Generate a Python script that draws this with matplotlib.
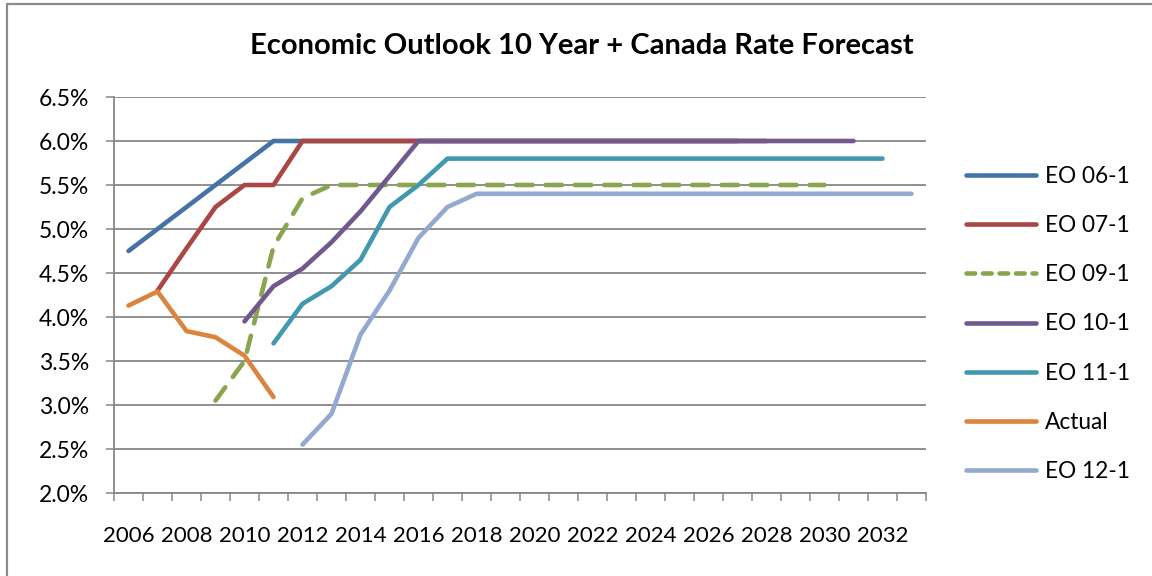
import numpy as np
import matplotlib
matplotlib.use("Agg")
import matplotlib.pyplot as plt
from matplotlib.patches import Rectangle

plt.rcParams['font.family'] = ['Lato', 'DejaVu Sans']

years = list(range(2006, 2034))

# forecast series: first year + yearly rate (%)
eo06_start = 2006
eo06 = [4.75, 5.00, 5.25, 5.50, 5.75, 6.00, 6.00, 6.00, 6.00, 6.00, 6.00,
        6.00, 6.00, 6.00, 6.00, 6.00, 6.00, 6.00, 6.00, 6.00, 6.00, 6.00]
eo07_start = 2007
eo07 = [4.30, 4.78, 5.25, 5.50, 5.50, 6.00, 6.00, 6.00, 6.00, 6.00, 6.00,
        6.00, 6.00, 6.00, 6.00, 6.00, 6.00, 6.00, 6.00, 6.00, 6.00, 6.00]
eo09_start = 2009
eo09 = [3.05, 3.50, 4.80, 5.35, 5.50, 5.50, 5.50, 5.50, 5.50, 5.50, 5.50,
        5.50, 5.50, 5.50, 5.50, 5.50, 5.50, 5.50, 5.50, 5.50, 5.50, 5.50]
eo10_start = 2010
eo10 = [3.95, 4.35, 4.55, 4.85, 5.20, 5.60, 6.00, 6.00, 6.00, 6.00, 6.00,
        6.00, 6.00, 6.00, 6.00, 6.00, 6.00, 6.00, 6.00, 6.00, 6.00, 6.00]
eo11_start = 2011
eo11 = [3.70, 4.15, 4.35, 4.65, 5.25, 5.50, 5.80, 5.80, 5.80, 5.80, 5.80,
        5.80, 5.80, 5.80, 5.80, 5.80, 5.80, 5.80, 5.80, 5.80, 5.80, 5.80]
actual_start = 2006
actual = [4.13, 4.29, 3.84, 3.77, 3.56, 3.09]
eo12_start = 2012
eo12 = [2.55, 2.90, 3.80, 4.30, 4.90, 5.25, 5.40, 5.40, 5.40, 5.40, 5.40,
        5.40, 5.40, 5.40, 5.40, 5.40, 5.40, 5.40, 5.40, 5.40, 5.40, 5.40]

series = [
    ("EO 06-1", eo06_start, eo06, "#4572A7", "-"),
    ("EO 07-1", eo07_start, eo07, "#AA4643", "-"),
    ("EO 09-1", eo09_start, eo09, "#89A54E", "--"),
    ("EO 10-1", eo10_start, eo10, "#71588F", "-"),
    ("EO 11-1", eo11_start, eo11, "#4198AF", "-"),
    ("Actual", actual_start, actual, "#DB843D", "-"),
    ("EO 12-1", eo12_start, eo12, "#93A9CF", "-"),
]

grid_col = "#878787"

fig = plt.figure(figsize=(11.52, 5.76), dpi=100)
ax = fig.add_axes([114 / 1152, 83 / 576, 812 / 1152, 396 / 576])

for name, start, vals, col, ls in series:
    x = np.arange(len(vals)) + years.index(start)
    line, = ax.plot(x, vals, color=col, lw=3.3, label=name,
                    solid_capstyle='round', dash_capstyle='round')
    if ls == "--":
        line.set_dashes((3.6, 2.8))

ax.set_xlim(-0.5, len(years) - 0.5)
ax.set_ylim(2.0, 6.5)

yt = np.arange(2.0, 6.51, 0.5)
ax.set_yticks(yt)
ax.set_yticklabels([f"{v:.1f}%" for v in yt], fontsize=16.5)
ax.yaxis.grid(True, color=grid_col, lw=1.3)
ax.set_axisbelow(True)
ax.tick_params(axis='y', length=6, width=1.1, color=grid_col, pad=12)

ax.set_xticks(np.arange(-0.5, len(years), 1))
ax.set_xticklabels([])
ax.set_xticks(np.arange(0, len(years), 2), minor=True)
ax.set_xticklabels([str(y) for y in years[::2]], minor=True, fontsize=16)
ax.tick_params(axis='x', which='major', length=6, width=1.1, color=grid_col)
ax.tick_params(axis='x', which='minor', length=0, pad=24)

for s in ['top', 'right']:
    ax.spines[s].set_visible(False)
for s in ['left', 'bottom']:
    ax.spines[s].set_color(grid_col)
    ax.spines[s].set_linewidth(1.3)

fig.text(0.505, 0.921, "Economic Outlook 10 Year + Canada Rate Forecast",
         ha='center', va='center', fontsize=21, fontweight='bold')

leg = fig.legend(loc='center left', bbox_to_anchor=(966 / 1152, 1 - 324 / 576),
                 frameon=False, fontsize=16.3, handlelength=3.1, handletextpad=0.4,
                 labelspacing=1.25, borderpad=0, borderaxespad=0)
# shorter dashes on the EO 09-1 legend key so four fit on the sample line
for h, t in zip(leg.legend_handles, leg.get_texts()):
    if t.get_text() == "EO 09-1":
        h.set_dashes((1.9, 1.7))

# chart border
fig.add_artist(Rectangle((7 / 1152, -0.1), 1.2, 1.1 - 4 / 576,
                         transform=fig.transFigure, fill=False,
                         edgecolor="#8c8c8c", lw=1.6))

fig.savefig("out.png", dpi=100)
